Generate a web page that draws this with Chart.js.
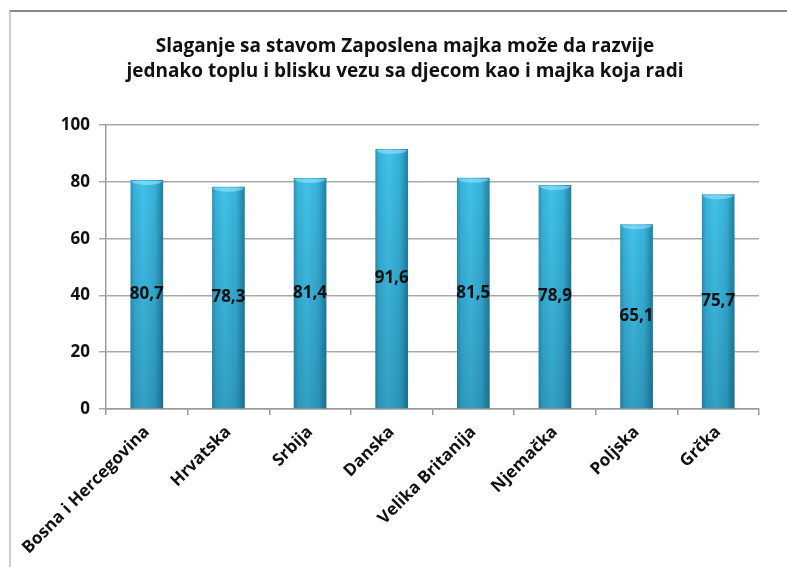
<!DOCTYPE html>
<html>
<head>
<meta charset="utf-8">
<script src="https://cdn.jsdelivr.net/npm/chart.js@4.4.1/dist/chart.umd.min.js"></script>
<style>
  html, body { margin: 0; padding: 0; background: #fff; overflow: hidden; }
  #wrap { position: relative; width: 787px; height: 567px; }
  #frame { position: absolute; left: 9px; top: 10px; width: 800px; height: 600px;
           border-top: 2px solid #8a8a8a; border-left: 2px solid #cfcfcf; box-sizing: border-box; }
  canvas { position: absolute; left: 0; top: 0; }
</style>
</head>
<body>
<div id="wrap">
  <div id="frame"></div>
  <canvas id="c" width="787" height="567"></canvas>
</div>
<script>
const titleLines = [
  "Slaganje sa stavom Zaposlena majka može da razvije",
  "jednako toplu i blisku vezu sa djecom kao i majka koja radi"
];
const categories = ["Bosna i Hercegovina", "Hrvatska", "Srbija", "Danska", "Velika Britanija", "Njemačka", "Poljska", "Grčka"];
const values = [80.7, 78.3, 81.4, 91.6, 81.5, 78.9, 65.1, 75.7];
const yTicks = [0, 20, 40, 60, 80, 100];

const FONT = "'Open Sans', 'Liberation Sans', sans-serif";
const BAR_FRACTION = 0.4;

function barGradient(context) {
  const chart = context.chart;
  const xs = chart.scales.x;
  if (!xs || !chart.chartArea) return '#3bb6dd';
  const cx = xs.getPixelForValue(context.dataIndex);
  const w = (xs.width / categories.length) * BAR_FRACTION;
  const g = chart.ctx.createLinearGradient(cx - w / 2, 0, cx + w / 2, 0);
  g.addColorStop(0, '#2a92b6');
  g.addColorStop(0.12, '#38b2d9');
  g.addColorStop(0.4, '#41c2e9');
  g.addColorStop(0.75, '#37b0d8');
  g.addColorStop(1, '#1f7f9f');
  return g;
}

const barEffects = {
  id: 'barEffects',
  afterDatasetsDraw(chart) {
    const ctx = chart.ctx;
    const meta = chart.getDatasetMeta(0);
    meta.data.forEach((bar) => {
      const w = bar.width;
      const left = bar.x - w / 2;
      const top = bar.y;
      const bottom = bar.base;
      ctx.save();
      const vg = ctx.createLinearGradient(0, top, 0, bottom);
      vg.addColorStop(0, 'rgba(0,40,60,0)');
      vg.addColorStop(1, 'rgba(0,40,60,0.22)');
      ctx.fillStyle = vg;
      ctx.fillRect(left, top, w, bottom - top);
      ctx.beginPath();
      ctx.ellipse(bar.x, top + 1, w / 2 - 1, 4, 0, 0, Math.PI);
      ctx.fillStyle = 'rgba(170,230,248,0.55)';
      ctx.fill();
      ctx.restore();
    });
  }
};

const valueLabels = {
  id: 'valueLabels',
  afterDatasetsDraw(chart) {
    const ctx = chart.ctx;
    const meta = chart.getDatasetMeta(0);
    ctx.save();
    ctx.font = "bold 17px " + FONT;
    ctx.fillStyle = '#111';
    ctx.textAlign = 'center';
    ctx.textBaseline = 'middle';
    meta.data.forEach((bar, i) => {
      const txt = values[i].toFixed(1).replace('.', ',');
      ctx.fillText(txt, bar.x, (bar.y + bar.base) / 2);
    });
    ctx.restore();
  }
};

new Chart(document.getElementById('c'), {
  type: 'bar',
  data: {
    labels: categories,
    datasets: [{
      data: values,
      backgroundColor: barGradient,
      borderWidth: 0,
      categoryPercentage: 1,
      barPercentage: BAR_FRACTION
    }]
  },
  options: {
    responsive: false,
    animation: false,
    devicePixelRatio: 1,
    layout: { padding: { left: 23, right: 0, top: 0, bottom: 0 } },
    plugins: {
      legend: { display: false },
      tooltip: { enabled: false },
      title: {
        display: true,
        text: titleLines,
        color: '#111',
        font: { family: FONT, size: 19, weight: 'bold', lineHeight: 1.32 },
        padding: { top: 34, bottom: 41 }
      }
    },
    scales: {
      x: {
        offset: true,
        grid: { display: true, drawOnChartArea: false, drawTicks: true, tickLength: 6, color: '#999', lineWidth: 1.5, offset: true },
        border: { display: true, color: '#999', width: 1.5 },
        ticks: {
          color: '#111',
          font: { family: FONT, size: 17, weight: 'bold' },
          minRotation: 45, maxRotation: 45,
          padding: 7
        },
        afterFit(s) { s.height = 158; }
      },
      y: {
        min: 0, max: 100,
        afterBuildTicks(s) { s.ticks = yTicks.map(v => ({ value: v })); },
        grid: { color: '#aaaaaa', lineWidth: 1.5, tickLength: 7 },
        border: { display: true, color: '#999', width: 1.5 },
        ticks: {
          color: '#111',
          font: { family: FONT, size: 17, weight: 'bold' },
          padding: 9
        },
        afterFit(s) { s.width = 83; }
      },
      y2: {
        position: 'right',
        display: true,
        grid: { display: false, drawTicks: false },
        border: { display: false },
        ticks: { display: false },
        afterFit(s) { s.width = 28; }
      }
    }
  },
  plugins: [barEffects, valueLabels]
});
</script>
</body>
</html>
